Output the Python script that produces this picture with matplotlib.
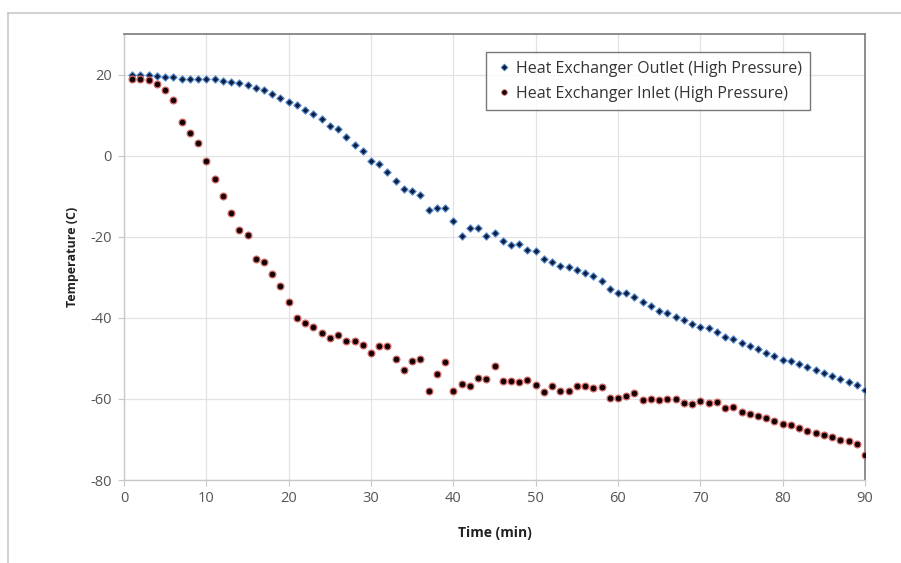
import numpy as np
import matplotlib
matplotlib.use("Agg")
import matplotlib.pyplot as plt
from matplotlib.lines import Line2D

time_min = np.arange(1, 91)

outlet_temp = [
    20.0, 20.0, 20.0, 19.6, 19.4, 19.4, 19.0, 19.0, 18.9, 18.9,
    18.8, 18.4, 18.2, 17.8, 17.5, 16.6, 16.1, 15.2, 14.3, 13.3,
    12.4, 11.3, 10.3, 9.0, 7.4, 6.5, 4.6, 2.6, 1.1, -1.3,
    -2.0, -4.0, -6.3, -8.2, -8.8, -9.8, -13.5, -12.9, -12.9, -16.1,
    -19.7, -17.9, -17.9, -19.7, -19.1, -21.1, -22.0, -21.7, -23.3, -23.4,
    -25.4, -26.2, -27.2, -27.4, -28.2, -28.9, -29.8, -31.0, -32.8, -33.9,
    -34.0, -34.9, -36.1, -37.2, -38.2, -38.8, -39.9, -40.6, -41.5, -42.3,
    -42.6, -43.5, -44.7, -45.2, -46.2, -47.0, -47.7, -48.6, -49.3, -50.3,
    -50.7, -51.5, -52.1, -52.8, -53.6, -54.3, -55.1, -55.8, -56.6, -57.9,
]

inlet_temp = [
    19.0, 19.0, 18.6, 17.7, 16.1, 13.6, 8.3, 5.6, 3.0, -1.2,
    -5.8, -10.0, -14.2, -18.3, -19.5, -25.4, -26.2, -29.3, -32.1, -36.1,
    -40.0, -41.3, -42.3, -43.8, -45.0, -44.2, -45.7, -45.8, -46.7, -48.7,
    -46.9, -46.9, -50.1, -52.8, -50.7, -50.1, -58.0, -53.8, -51.0, -58.0,
    -56.3, -56.9, -54.8, -55.2, -52.0, -55.7, -55.7, -55.9, -55.4, -56.5,
    -58.2, -56.9, -58.0, -58.0, -56.9, -56.9, -57.3, -57.1, -59.7, -59.8,
    -59.4, -58.5, -60.3, -60.0, -60.2, -60.1, -60.1, -60.9, -61.3, -60.5,
    -61.0, -60.8, -62.2, -62.1, -63.2, -63.6, -64.1, -64.8, -65.5, -66.1,
    -66.5, -67.2, -67.9, -68.5, -68.9, -69.4, -70.2, -70.5, -71.0, -73.9,
]

series_names = ["Heat Exchanger Outlet (High Pressure)",
                "Heat Exchanger Inlet (High Pressure)"]

plt.rcParams['font.family'] = ['Open Sans', 'DejaVu Sans']
plt.rcParams['axes.unicode_minus'] = False

fig = plt.figure(figsize=(9.01, 5.63), dpi=100)
ax = fig.add_axes([124/901, 1 - 480/563, (865-124)/901, (480-34)/563])

ax.scatter(time_min, outlet_temp, marker='D', s=14, color='#0d1f45',
           edgecolors='#5b8fd0', linewidths=0.8, zorder=3)
ax.scatter(time_min, inlet_temp, marker='o', s=24, color='#140000',
           edgecolors='#d46a6a', linewidths=0.9, zorder=3)

ax.set_xlim(0, 90)
ax.set_ylim(-80, 30)
ax.set_xticks(np.arange(0, 91, 10))
ax.set_yticks(np.arange(-80, 21, 20))
ax.grid(True, color='#e3e3e3', linewidth=0.9)
ax.set_axisbelow(True)

for side in ['left', 'bottom']:
    ax.spines[side].set_color('#c8c8c8')
    ax.spines[side].set_linewidth(1.0)
for side in ['top', 'right']:
    ax.spines[side].set_color('#7a7a7a')
    ax.spines[side].set_linewidth(1.2)

ax.tick_params(axis='both', colors='#c8c8c8', labelcolor='#555555',
               labelsize=10.5, length=4)
ax.tick_params(axis='x', pad=4)
ax.tick_params(axis='y', pad=5)

ax.set_xlabel("Time (min)", fontsize=10, fontweight='bold', color='#222222', labelpad=14)
ax.set_ylabel("Temperature (C)", fontsize=9, fontweight='bold', color='#222222', labelpad=8)

handles = [
    Line2D([], [], linestyle='none', marker='D', markersize=3.5,
           markerfacecolor='#0d1f45', markeredgecolor='#5b8fd0', markeredgewidth=0.6),
    Line2D([], [], linestyle='none', marker='o', markersize=4,
           markerfacecolor='#140000', markeredgecolor='#d46a6a', markeredgewidth=0.6),
]
leg = ax.legend(handles, series_names, loc='upper left',
                bbox_to_anchor=((486-124)/741, 1 - (52-34)/446), borderaxespad=0,
                fontsize=11.5, frameon=True, fancybox=False, handletextpad=0.1,
                handlelength=1.2, borderpad=0.55, labelspacing=0.55,
                labelcolor='#333333')
leg.get_frame().set_edgecolor('#555555')
leg.get_frame().set_linewidth(1.0)

# outer frame around the chart
fig.add_artist(Line2D([8/901, 8/901], [0, 1 - 13/563], transform=fig.transFigure,
                      color='#c8c8c8', linewidth=1.2))
fig.add_artist(Line2D([8/901, 1], [1 - 13/563, 1 - 13/563], transform=fig.transFigure,
                      color='#c8c8c8', linewidth=1.2))

fig.savefig("out.png", dpi=100)
